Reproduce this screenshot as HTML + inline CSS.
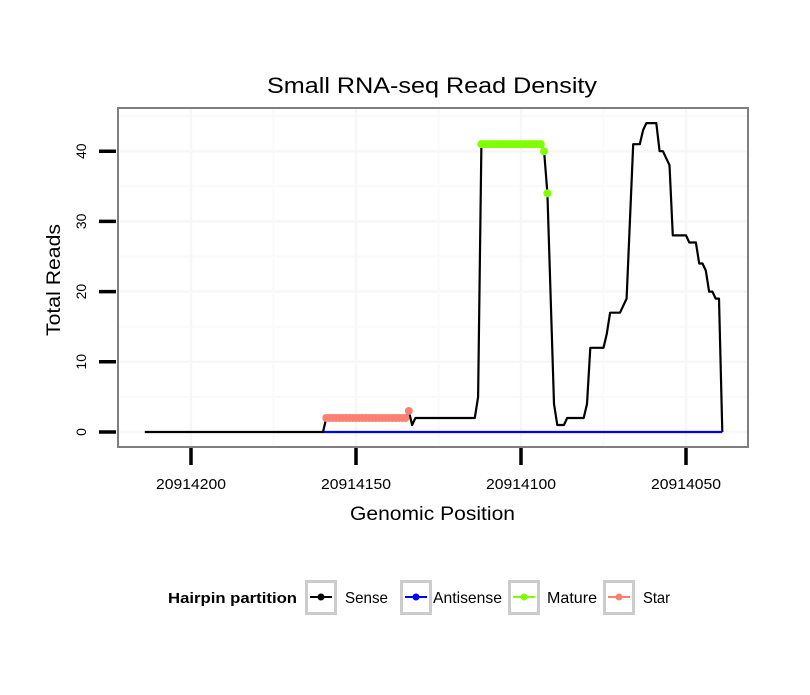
<!DOCTYPE html>
<html><head><meta charset="utf-8"><style>
body{margin:0;background:#fff;font-family:"Liberation Sans",sans-serif}
svg text{font-family:"Liberation Sans",sans-serif}
</style></head><body>
<svg id="chart" width="810" height="690" xmlns="http://www.w3.org/2000/svg">
<rect width="810" height="690" fill="#fff"/>
<text x="267" y="93" textLength="330" lengthAdjust="spacingAndGlyphs" font-size="22">Small RNA-seq Read Density</text>
<g id="grid"></g>
<g id="series"></g>
<rect x="118" y="108" width="630" height="339" fill="none" stroke="#7f7f7f" stroke-width="2"/>
<g id="axes"></g>
<text x="350" y="520" textLength="165" lengthAdjust="spacingAndGlyphs" font-size="19">Genomic Position</text>
<text transform="translate(60,336) rotate(-90)" textLength="112" lengthAdjust="spacingAndGlyphs" font-size="19">Total Reads</text>
<g>
<text x="168" y="603" textLength="129" lengthAdjust="spacingAndGlyphs" font-size="15" font-weight="bold">Hairpin partition</text>
<g id="legend"></g>
</g>
</svg>
<script>
const xTicks=[20914200,20914150,20914100,20914050];
const yTicks=[0,10,20,30,40];
const sensePos=[214,160,159,135,134,133,132,114,113,112,94,93,92,91,90,89,87,86,81,80,79,75,74,73,70,68,67,66,64,63,62,59,58,57,56,55,54,50,49,47,46,45,44,43,42,41,40,39];
const senseVal=[0,0,2,2,3,1,2,2,5,41,41,40,34,19,4,1,1,2,2,4,12,12,14,17,17,19,30,41,41,43,44,44,40,40,39,38,28,28,27,27,24,24,23,20,20,19,19,0];
const antiPos=[160,39];
const antiVal=[0,0];
const maturePos=[112,111,110,109,108,107,106,105,104,103,102,101,100,99,98,97,96,95,94,93,92];
const matureVal=[41,41,41,41,41,41,41,41,41,41,41,41,41,41,41,41,41,41,41,40,34];
const starPos=[159,158,157,156,155,154,153,152,151,150,149,148,147,146,145,144,143,142,141,140,139,138,137,136,135,134];
const starVal=[2,2,2,2,2,2,2,2,2,2,2,2,2,2,2,2,2,2,2,2,2,2,2,2,2,3];
const legendLabels=["Sense","Antisense","Mature","Star"];
const legendColors=["#000","#0000ff","#7fff00","#fa8072"];

const NS="http://www.w3.org/2000/svg";
const X=v=>191+(20914200-v)*3.3;
const P=p=>X(20914000+p);
const Y=v=>432-v*7.02;
function mk(tag,attrs,parent){const e=document.createElementNS(NS,tag);for(const k in attrs)e.setAttribute(k,attrs[k]);parent.appendChild(e);return e;}
const grid=document.getElementById('grid'),series=document.getElementById('series'),axes=document.getElementById('axes'),legend=document.getElementById('legend');
for(let i=0;i<yTicks.length;i++){
  const ym=Y(yTicks[i]+5);
  const l=mk('line',{x1:119,x2:747,y1:ym,y2:ym,stroke:'#fafafa','stroke-width':2},grid);
  
  
}
for(let i=0;i<yTicks.length;i++){
  const y=Y(yTicks[i]);
  const l=mk('line',{x1:119,x2:747,y1:y,y2:y,stroke:'#f7f7f7','stroke-width':2.5},grid);
  
  
  const t=mk('line',{x1:99,x2:116,y1:y,y2:y,stroke:'#000','stroke-width':3.5},axes);
  
  
  const tx=mk('text',{transform:`translate(86,${y}) rotate(-90)`,'text-anchor':'middle','font-size':14},axes);
  tx.textContent=yTicks[i];
  
  
}
for(let i=0;i<xTicks.length;i++){
  const x=X(xTicks[i]);
  const l=mk('line',{x1:x,x2:x,y1:109,y2:446,stroke:'#f7f7f7','stroke-width':2.5},grid);
  
  
  const xm=X(xTicks[i]+25);
  if(xm>119){const m=mk('line',{x1:xm,x2:xm,y1:109,y2:446,stroke:'#fafafa','stroke-width':2},grid);
  
  }
  const t=mk('line',{x1:x,x2:x,y1:448,y2:465,stroke:'#000','stroke-width':3.5},axes);
  
  
  const tx=mk('text',{x:x-35,y:489,textLength:70,lengthAdjust:'spacingAndGlyphs','font-size':15},axes);
  tx.textContent=xTicks[i];
  
  
}
function line(pos,val,color,name){
  const d=pos.map((p,i)=>(i?'L':'M')+P(p).toFixed(1)+','+Y(val[i]).toFixed(1)).join('');
  const e=mk('path',{d:d,fill:'none',stroke:color,'stroke-width':2.2,'stroke-linejoin':'round'},series);
  
  
}
function pts(pos,val,color,name){
  for(let i=0;i<pos.length;i++){
    const c=mk('circle',{cx:P(pos[i]),cy:Y(val[i]),r:4,fill:color},series);
    
    
  }
}
line(antiPos,antiVal,'#0000ff','antisense-line');
line(sensePos,senseVal,'#000','sense-line');
pts(starPos,starVal,'#fa8072','star-point');
pts(maturePos,matureVal,'#7fff00','mature-point');
const boxX=[305,400,508,603],txtX=[345,433,547,643],txtW=[43,69,50,27];
for(let i=0;i<legendLabels.length;i++){
  const g=mk('g',{},legend);
  
  
  mk('rect',{x:boxX[i]+1.5,y:581.5,width:29,height:32,fill:'#fff',stroke:'#cccccc','stroke-width':3},g);
  mk('line',{x1:boxX[i]+5,x2:boxX[i]+27,y1:597,y2:597,stroke:legendColors[i],'stroke-width':2},g);
  mk('circle',{cx:boxX[i]+16,cy:597,r:3.5,fill:legendColors[i]},g);
  const t=mk('text',{x:txtX[i],y:603,'font-size':16,textLength:txtW[i],lengthAdjust:'spacingAndGlyphs'},g);
  t.textContent=legendLabels[i];
}
</script>
</body></html>
